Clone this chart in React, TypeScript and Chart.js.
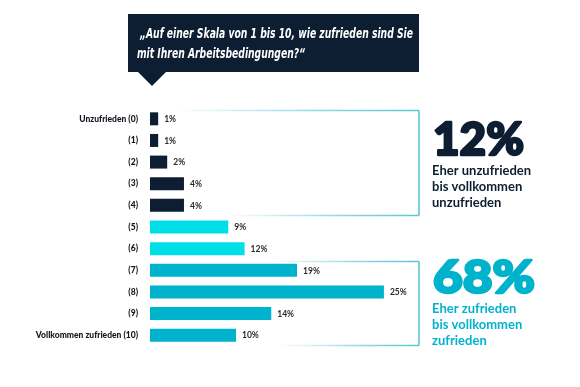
import React, { useEffect, useRef } from "react";
import { Chart, registerables } from "chart.js";

Chart.register(...registerables);

const categories = [
  "Unzufrieden (0)", "(1)", "(2)", "(3)", "(4)", "(5)", "(6)", "(7)", "(8)", "(9)", "Vollkommen zufrieden (10)",
];
// bar lengths as drawn in the picture (percent)
const barValues = [0.95, 0.95, 2.0, 3.95, 3.95, 9.1, 11.0, 17.1, 27.2, 14.1, 10.0];
// printed labels
const valueLabels = ["1%", "1%", "2%", "4%", "4%", "9%", "12%", "19%", "25%", "14%", "10%"];
const barGroups = ["neg", "neg", "neg", "neg", "neg", "mid", "mid", "pos", "pos", "pos", "pos"];
const questionLines = ["„Auf einer Skala von 1 bis 10, wie zufrieden sind Sie", "mit Ihren Arbeitsbedingungen?“"];
const negSummary = { value: "12%", lines: ["Eher unzufrieden", "bis vollkommen", "unzufrieden"] };
const posSummary = { value: "68%", lines: ["Eher zufrieden", "bis vollkommen", "zufrieden"] };

const NAVY = "#0e1e32";
const CYAN = "#00dfe8";
const TEAL = "#00b3cc";
const BRACKET = "#5cc6d6";
const groupColor: Record<string, string> = { neg: NAVY, mid: CYAN, pos: TEAL };

function fitText(ctx: CanvasRenderingContext2D, text: string, x: number, y: number, w: number, stroke = 0) {
  const m = ctx.measureText(text).width;
  ctx.save();
  ctx.translate(x, y);
  ctx.scale(w / m, 1);
  if (stroke > 0) {
    ctx.lineWidth = stroke;
    ctx.lineJoin = "round";
    ctx.strokeStyle = ctx.fillStyle as string;
    ctx.strokeText(text, 0, 0);
  }
  ctx.fillText(text, 0, 0);
  ctx.restore();
}

const decor = {
  id: "decor",
  beforeDraw(chart: any) {
    const ctx: CanvasRenderingContext2D = chart.ctx;
    ctx.save();
    // callout box
    ctx.fillStyle = NAVY;
    ctx.fillRect(128, 14, 291, 58);
    ctx.beginPath();
    ctx.moveTo(137, 71);
    ctx.lineTo(167, 71);
    ctx.lineTo(152, 86);
    ctx.closePath();
    ctx.fill();
    ctx.fillStyle = "#ffffff";
    ctx.textBaseline = "alphabetic";
    ctx.textAlign = "left";
    ctx.font = "italic bold 14px 'Liberation Sans Narrow', 'DejaVu Sans', sans-serif";
    fitText(ctx, questionLines[0], 140, 38, 273);
    fitText(ctx, questionLines[1], 137, 58, 168);
    ctx.restore();
  },
  afterDatasetsDraw(chart: any) {
    const ctx: CanvasRenderingContext2D = chart.ctx;
    const ys = chart.scales.y;
    const meta = chart.getDatasetMeta(0);
    ctx.save();
    // value labels
    ctx.font = "bold 8.5px Lato, sans-serif";
    ctx.fillStyle = "#2a2a2a";
    ctx.textBaseline = "middle";
    ctx.textAlign = "left";
    meta.data.forEach((bar: any, i: number) => {
      ctx.fillText(valueLabels[i], bar.x + 6, bar.y + 0.5);
    });

    const band = ys.getPixelForValue(1) - ys.getPixelForValue(0);
    const rightX = 419;
    const drawBracket = (i0: number, i1: number, topFade: number, botFade: number) => {
      const top = Math.round(ys.getPixelForValue(i0) - band * 0.42) + 0.5;
      const bot = Math.round(ys.getPixelForValue(i1) + band * 0.46) + 0.5;
      ctx.lineWidth = 1.6;
      const g1 = ctx.createLinearGradient(topFade, 0, rightX, 0);
      g1.addColorStop(0, "rgba(92,198,214,0)");
      g1.addColorStop(0.6, "rgba(92,198,214,0.7)");
      g1.addColorStop(1, BRACKET);
      ctx.strokeStyle = g1;
      ctx.beginPath();
      ctx.moveTo(topFade, top);
      ctx.lineTo(rightX, top);
      ctx.stroke();
      const g2 = ctx.createLinearGradient(botFade, 0, rightX, 0);
      g2.addColorStop(0, "rgba(92,198,214,0)");
      g2.addColorStop(0.6, "rgba(92,198,214,0.7)");
      g2.addColorStop(1, BRACKET);
      ctx.strokeStyle = g2;
      ctx.beginPath();
      ctx.moveTo(botFade, bot);
      ctx.lineTo(rightX, bot);
      ctx.stroke();
      ctx.strokeStyle = BRACKET;
      ctx.beginPath();
      ctx.moveTo(rightX, top);
      ctx.lineTo(rightX, bot);
      ctx.stroke();
    };
    drawBracket(0, 4, 175, 225);
    drawBracket(7, 10, 270, 280);

    // summaries
    const drawSummary = (s: any, color: string, y: number) => {
      ctx.fillStyle = color;
      ctx.textAlign = "left";
      ctx.textBaseline = "alphabetic";
      ctx.font = "900 46px Lato, sans-serif";
      fitText(ctx, s.value, 433, y, s.value === "12%" ? 91 : 102, 2.5);
      ctx.font = "bold 13px Lato, sans-serif";
      s.lines.forEach((l: string, k: number) => {
        ctx.fillText(l, 432, y + 20 + k * 16);
      });
    };
    drawSummary(negSummary, NAVY, 155);
    drawSummary(posSummary, TEAL, 293);
    ctx.restore();
  },
};

export default function App() {
  const ref = useRef<HTMLCanvasElement>(null);
  useEffect(() => {
    if (!ref.current) return;
    const chart = new Chart(ref.current, {
      type: "bar",
      data: {
        labels: categories,
        datasets: [
          {
            data: barValues,
            backgroundColor: barGroups.map((g) => groupColor[g]),
            barPercentage: 0.6,
            categoryPercentage: 1,
          },
        ],
      },
      options: {
        indexAxis: "y",
        responsive: false,
        animation: false,
        layout: { padding: { top: 108, bottom: 41, left: 0, right: 580 - (150 + 30 * 8.6) } },
        plugins: { legend: { display: false }, tooltip: { enabled: false } },
        scales: {
          x: { display: false, min: 0, max: 30 },
          y: {
            grid: { display: false },
            border: { display: false },
            afterFit: (axis: any) => {
              axis.width = 150;
            },
            ticks: {
              padding: 4,
              color: "#141420",
              font: { family: "Lato, sans-serif", weight: "900", size: 8.5 },
            },
          },
        },
      },
      plugins: [decor],
    });
    return () => chart.destroy();
  }, []);
  return (
    <div style={{ position: "fixed", left: 0, top: 0, width: 580, height: 387, background: "#fff" }}>
      <canvas ref={ref} width={580} height={387} />
    </div>
  );
}
